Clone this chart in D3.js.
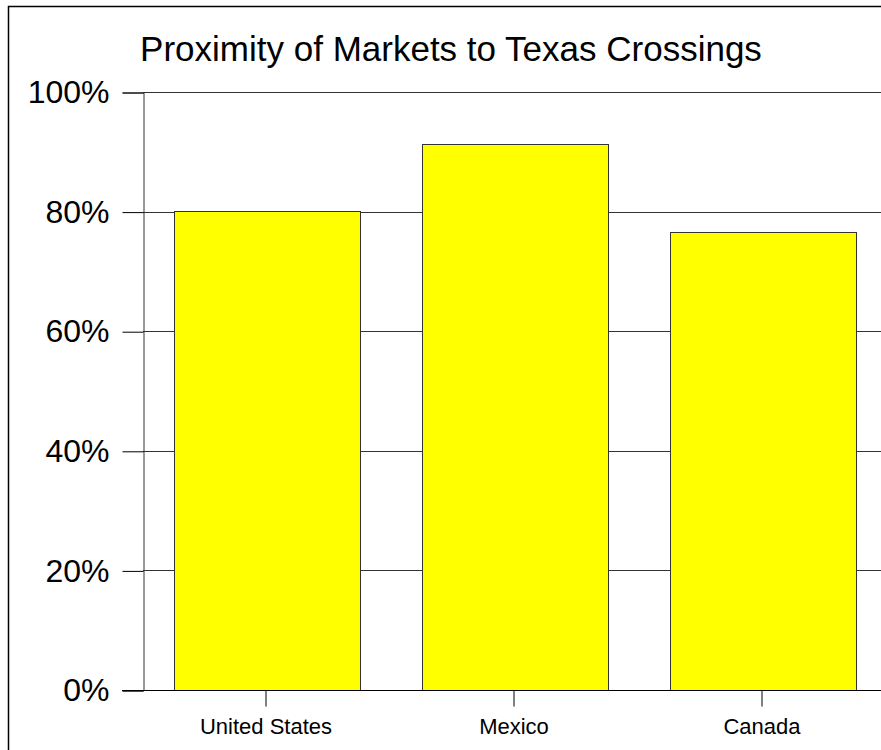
<!DOCTYPE html>
<html>
<head>
<meta charset="utf-8">
<script src="https://cdn.jsdelivr.net/npm/d3@7"></script>
<style>
  body { margin: 0; background: #fff; }
  svg { display: block; font-family: "Liberation Sans", Arial, sans-serif; }
</style>
</head>
<body>
<svg id="chart" width="881" height="750"></svg>
<script>
var categories = ['United States', 'Mexico', 'Canada'];
var shares = [80.1, 91.3, 76.6];
var yTicks = [0, 20, 40, 60, 80, 100];
var title = 'Proximity of Markets to Texas Crossings';

var svg = d3.select('#chart');

// outer frame (only top and left show in the picture)
svg.append('path')
  .attr('d', 'M8.5,750 V6.5 H881')
  .attr('fill', 'none')
  .attr('stroke', '#000')
  .attr('stroke-width', 1.5);

var plotLeft = 143, plotTop = 92, plotBottom = 690;

var x = d3.scaleBand()
  .domain(categories)
  .range([plotLeft - 1, plotLeft - 1 + 3 * 248])
  .paddingInner(0.25)
  .paddingOuter(0.125);

var y = d3.scaleLinear()
  .domain([0, 100])
  .range([plotBottom, plotTop]);

svg.append('text')
  .attr('x', 451)
  .attr('y', 61)
  .attr('text-anchor', 'middle')
  .attr('font-size', 35)
  .text(title);

// gridlines
svg.append('g')
  .selectAll('line')
  .data(yTicks)
  .enter()
  .append('line')
  .attr('x1', plotLeft)
  .attr('x2', 881)
  .attr('y1', function(d) { return Math.round(y(d)) + 0.5; })
  .attr('y2', function(d) { return Math.round(y(d)) + 0.5; })
  .attr('stroke', '#333');

svg.append('g')
  .selectAll('rect')
  .data(shares)
  .enter()
  .append('rect')
  .attr('x', function(d, i) { return Math.round(x(categories[i])) + 1.5; })
  .attr('y', function(d) { return Math.round(y(d)) + 0.5; })
  .attr('width', Math.round(x.bandwidth()))
  .attr('height', function(d) { return Math.round(y(0)) - Math.round(y(d)); })
  .attr('fill', '#ffff00')
  .attr('stroke', '#333');

var yAxis = d3.axisLeft(y)
  .tickValues(yTicks)
  .tickSize(21)
  .tickPadding(13)
  .tickFormat(function(d) { return d + '%'; });

var gy = svg.append('g')
  .attr('transform', 'translate(' + (plotLeft + 0.5) + ',0.5)')
  .call(yAxis);
gy.select('.domain').attr('stroke', '#333');
gy.selectAll('.tick line').attr('stroke', '#000');
gy.selectAll('.tick text')
  .attr('font-size', 32)
  .attr('font-family', '"Liberation Sans", Arial, sans-serif')
  .attr('fill', '#000');

var xAxis = d3.axisBottom(x)
  .tickSize(16)
  .tickPadding(12)
  .tickSizeOuter(0);

var gx = svg.append('g')
  .attr('transform', 'translate(0,' + (plotBottom + 0.5) + ')')
  .call(xAxis);
gx.select('.domain').remove();
gx.selectAll('.tick line').attr('stroke', '#000');
gx.selectAll('.tick text')
  .attr('font-size', 22)
  .attr('font-family', '"Liberation Sans", Arial, sans-serif')
  .attr('fill', '#000');

// baseline from the 0% tick to the right edge
svg.append('line')
  .attr('x1', plotLeft - 21)
  .attr('x2', 881)
  .attr('y1', plotBottom + 0.5)
  .attr('y2', plotBottom + 0.5)
  .attr('stroke', '#000');
</script>
</body>
</html>
